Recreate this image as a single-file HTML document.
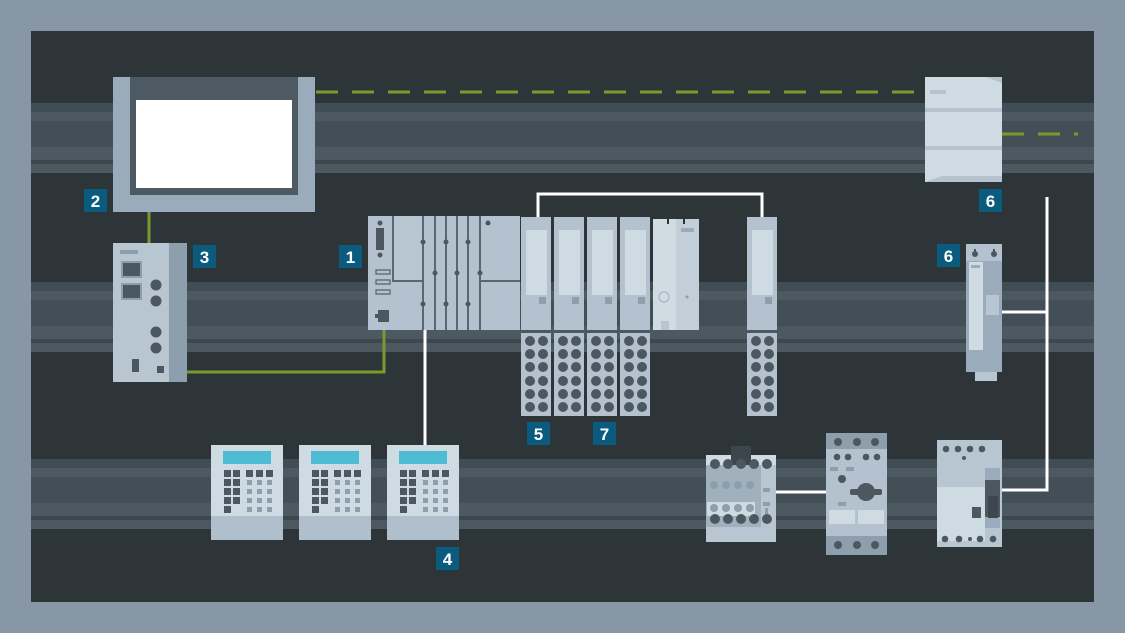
<!DOCTYPE html>
<html><head><meta charset="utf-8"><style>
html,body{margin:0;padding:0;background:#8797a6;}
svg{display:block}
text{font-family:"Liberation Sans",sans-serif;font-weight:bold;fill:#fff;font-size:17px;text-anchor:middle}
</style></head><body>
<svg width="1125" height="633" viewBox="0 0 1125 633" xmlns="http://www.w3.org/2000/svg">
<defs>
<g id="rail">
<rect x="0" y="0" width="1063" height="9" fill="#414d55"/>
<rect x="0" y="9" width="1063" height="9" fill="#4d5961"/>
<rect x="0" y="18" width="1063" height="26" fill="#434f57"/>
<rect x="0" y="44" width="1063" height="13" fill="#4d5961"/>
<rect x="0" y="57" width="1063" height="4" fill="#3c474e"/>
<rect x="0" y="61" width="1063" height="9" fill="#4d5961"/>
</g>
<g id="sig">
<rect x="0" y="0" width="30" height="113" fill="#b3c2ce"/>
<rect x="5" y="13" width="21" height="65" fill="#cfdbe3"/>
<rect x="18" y="80" width="7" height="7" fill="#8d9eac"/>
</g>
<g id="term">
<rect x="0" y="0" width="30" height="83" fill="#b3c2ce"/>
<g fill="#4d5760">
<circle cx="9" cy="8" r="5"/><circle cx="22" cy="8" r="5"/>
<circle cx="9" cy="21" r="5"/><circle cx="22" cy="21" r="5"/>
<circle cx="9" cy="34" r="5"/><circle cx="22" cy="34" r="5"/>
<circle cx="9" cy="48" r="5"/><circle cx="22" cy="48" r="5"/>
<circle cx="9" cy="61" r="5"/><circle cx="22" cy="61" r="5"/>
<circle cx="9" cy="74" r="5"/><circle cx="22" cy="74" r="5"/>
</g>
</g>
<g id="kp">
<rect x="0" y="0" width="72" height="95" fill="#cfdbe3"/>
<rect x="0" y="71" width="72" height="24" fill="#afbfcb"/>
<rect x="12" y="6" width="48" height="13" fill="#4fbcd6"/>
<g fill="#4d5760">
<rect x="13" y="25" width="7" height="7"/><rect x="22" y="25" width="7" height="7"/>
<rect x="13" y="34" width="7" height="7"/><rect x="22" y="34" width="7" height="7"/>
<rect x="13" y="43" width="7" height="7"/><rect x="22" y="43" width="7" height="7"/>
<rect x="13" y="52" width="7" height="7"/><rect x="22" y="52" width="7" height="7"/>
<rect x="13" y="61" width="7" height="7"/>
<rect x="35" y="25" width="7" height="7"/><rect x="45" y="25" width="7" height="7"/><rect x="55" y="25" width="7" height="7"/>
</g>
<g fill="#8d9eac">
<rect x="36" y="35" width="5" height="5"/><rect x="46" y="35" width="5" height="5"/><rect x="56" y="35" width="5" height="5"/>
<rect x="36" y="44" width="5" height="5"/><rect x="46" y="44" width="5" height="5"/><rect x="56" y="44" width="5" height="5"/>
<rect x="36" y="53" width="5" height="5"/><rect x="46" y="53" width="5" height="5"/><rect x="56" y="53" width="5" height="5"/>
<rect x="36" y="62" width="5" height="5"/><rect x="46" y="62" width="5" height="5"/><rect x="56" y="62" width="5" height="5"/>
</g>
</g>
</defs>
<rect x="0" y="0" width="1125" height="633" fill="#8797a6"/>
<rect x="31" y="31" width="1063" height="571" fill="#2d3539"/>
<use href="#rail" x="31" y="103"/>
<use href="#rail" x="31" y="282"/>
<use href="#rail" x="31" y="459"/>

<!-- dashed green -->
<line x1="316" y1="92" x2="925" y2="92" stroke="#7a9a2e" stroke-width="3" stroke-dasharray="22,14"/>
<line x1="1002" y1="134" x2="1078" y2="134" stroke="#7a9a2e" stroke-width="3" stroke-dasharray="22,14"/>
<!-- green solid -->
<polyline points="149,212 149,243" fill="none" stroke="#7a9a2e" stroke-width="3"/>
<polyline points="187,372 384,372 384,330" fill="none" stroke="#7a9a2e" stroke-width="3"/>
<!-- white lines -->
<polyline points="538,217 538,194 762,194 762,217" fill="none" stroke="#fff" stroke-width="3"/>
<line x1="425" y1="330" x2="425" y2="446" stroke="#fff" stroke-width="3"/>
<polyline points="1047,197 1047,490 1000,490" fill="none" stroke="#fff" stroke-width="3"/>
<line x1="1002" y1="312" x2="1047" y2="312" stroke="#fff" stroke-width="3"/>
<line x1="776" y1="492" x2="827" y2="492" stroke="#fff" stroke-width="3"/>

<!-- HMI -->
<rect x="113" y="77" width="202" height="135" fill="#9aabbb"/>
<rect x="130" y="77" width="168" height="118" fill="#4d5a64"/>
<rect x="136" y="100" width="156" height="88" fill="#fff"/>

<!-- top right box -->
<rect x="925" y="77" width="77" height="105" fill="#cfdbe3"/>
<rect x="925" y="108" width="77" height="4" fill="#b4c3ce"/>
<rect x="925" y="146" width="77" height="4" fill="#b4c3ce"/>
<rect x="930" y="90" width="16" height="4" fill="#b4c3ce"/>
<polygon points="985,77 1002,77 1002,83" fill="#b4c3ce"/>
<polygon points="925,182 942,176 1002,176 1002,182" fill="#b4c3ce"/>

<!-- box 3 -->
<rect x="113" y="243" width="74" height="139" fill="#b8c6d1"/>
<rect x="169" y="243" width="18" height="139" fill="#8d9eac"/>
<rect x="120" y="250" width="18" height="4" fill="#8d9eac"/>
<rect x="121" y="261" width="21" height="17" fill="#8d9eac"/><rect x="123" y="263" width="17" height="13" fill="#4d5760"/>
<rect x="121" y="283" width="21" height="17" fill="#8d9eac"/><rect x="123" y="285" width="17" height="13" fill="#4d5760"/>
<g fill="#4d5760"><circle cx="156" cy="285" r="5.5"/><circle cx="156" cy="301" r="5.5"/><circle cx="156" cy="332" r="5.5"/><circle cx="156" cy="348" r="5.5"/>
<rect x="132" y="359" width="7" height="13"/><rect x="157" y="366" width="7" height="7"/></g>

<!-- PLC CPU & modules -->
<rect x="368" y="216" width="152" height="114" fill="#b3c2ce"/>
<g fill="none" stroke="#5a6670" stroke-width="2">
<line x1="423" y1="216" x2="423" y2="330"/><line x1="435" y1="216" x2="435" y2="330"/><line x1="446" y1="216" x2="446" y2="330"/><line x1="457" y1="216" x2="457" y2="330"/><line x1="468" y1="216" x2="468" y2="330"/><line x1="480" y1="216" x2="480" y2="330"/>
<polyline points="393,216 393,281 423,281"/><line x1="480" y1="281" x2="520" y2="281"/>
</g>
<rect x="394" y="216" width="28" height="64" fill="#b8c6d1"/>
<g fill="#4d5760">
<circle cx="380" cy="223" r="2.5"/><rect x="376" y="228" width="8" height="22"/><circle cx="380" cy="255" r="2.5"/>
<circle cx="423" cy="242" r="2.5"/><circle cx="446" cy="242" r="2.5"/><circle cx="468" cy="242" r="2.5"/>
<circle cx="435" cy="273" r="2.5"/><circle cx="457" cy="273" r="2.5"/><circle cx="480" cy="273" r="2.5"/>
<circle cx="423" cy="304" r="2.5"/><circle cx="446" cy="304" r="2.5"/><circle cx="468" cy="304" r="2.5"/>
<circle cx="488" cy="223" r="2.5"/>
<rect x="378" y="310" width="11" height="12"/><rect x="375" y="314" width="3" height="4"/>
</g>
<g fill="none" stroke="#5a6670" stroke-width="1.3"><rect x="376" y="270" width="14" height="4"/><rect x="376" y="280" width="14" height="4"/><rect x="376" y="290" width="14" height="4"/></g>

<use href="#sig" x="521" y="217"/><use href="#sig" x="554" y="217"/><use href="#sig" x="587" y="217"/><use href="#sig" x="620" y="217"/><use href="#sig" x="747" y="217"/>
<use href="#term" x="521" y="333"/><use href="#term" x="554" y="333"/><use href="#term" x="587" y="333"/><use href="#term" x="620" y="333"/><use href="#term" x="747" y="333"/>
<!-- power module -->
<rect x="653" y="219" width="23" height="111" fill="#d0dbe2"/>
<rect x="676" y="219" width="23" height="111" fill="#c2cfd8"/>
<rect x="667" y="219" width="2" height="5" fill="#2d3539"/><rect x="683" y="219" width="2" height="5" fill="#2d3539"/>
<rect x="681" y="228" width="13" height="4" fill="#9aabbb"/>
<circle cx="664" cy="297" r="5" fill="none" stroke="#aebccb" stroke-width="1.5"/>
<circle cx="687" cy="297" r="1.5" fill="#8d9eac"/>
<rect x="661" y="321" width="8" height="9" fill="#b8c6d1"/>

<!-- keypads -->
<use href="#kp" x="211" y="445"/><use href="#kp" x="299" y="445"/><use href="#kp" x="387" y="445"/>

<!-- drive -->
<rect x="966" y="244" width="36" height="128" fill="#9aabbb"/>
<rect x="966" y="244" width="36" height="17" fill="#b3c2ce"/>
<g fill="#4d5760"><circle cx="975" cy="254" r="3"/><circle cx="994" cy="254" r="3"/><rect x="974" y="249" width="2" height="3"/><rect x="993" y="249" width="2" height="3"/></g>
<rect x="969" y="262" width="14" height="88" fill="#cfdbe3"/>
<rect x="971" y="265" width="9" height="3" fill="#9aabbb"/>
<rect x="986" y="295" width="13" height="20" fill="#b8c6d1"/>
<rect x="975" y="372" width="22" height="9" fill="#b8c6d1"/>

<!-- contactor -->
<rect x="706" y="455" width="70" height="87" fill="#b8c6d1"/>
<rect x="706" y="455" width="70" height="10" fill="#cfdbe3"/>
<rect x="731" y="446" width="20" height="19" fill="#3d464d"/>
<rect x="706" y="465" width="55" height="62" fill="#a0b0bd"/>
<rect x="707" y="502" width="48" height="14" fill="#cfdbe3"/>
<g fill="#4d5760"><circle cx="715" cy="464" r="5"/><circle cx="728" cy="464" r="5"/><circle cx="741" cy="464" r="5"/><circle cx="754" cy="464" r="5"/><circle cx="767" cy="464" r="5"/>
<circle cx="715" cy="519" r="5"/><circle cx="728" cy="519" r="5"/><circle cx="741" cy="519" r="5"/><circle cx="754" cy="519" r="5"/><circle cx="767" cy="519" r="5"/></g>
<g fill="#8d9eac"><circle cx="714" cy="485" r="4"/><circle cx="726" cy="485" r="4"/><circle cx="738" cy="485" r="4"/><circle cx="750" cy="485" r="4"/>
<circle cx="714" cy="508" r="4"/><circle cx="726" cy="508" r="4"/><circle cx="738" cy="508" r="4"/><circle cx="750" cy="508" r="4"/>
<rect x="763" y="488" width="7" height="4"/><rect x="763" y="502" width="7" height="4"/><rect x="765" y="508" width="3" height="6"/></g>

<!-- motor starter -->
<rect x="826" y="433" width="61" height="122" fill="#b3c2ce"/>
<rect x="826" y="433" width="61" height="16" fill="#8d9eac"/>
<rect x="826" y="536" width="61" height="19" fill="#8d9eac"/>
<g fill="#4d5760"><circle cx="838" cy="442" r="4"/><circle cx="857" cy="442" r="4"/><circle cx="875" cy="442" r="4"/>
<circle cx="838" cy="545" r="4"/><circle cx="857" cy="545" r="4"/><circle cx="875" cy="545" r="4"/>
<circle cx="837" cy="457" r="3.3"/><circle cx="848" cy="457" r="3.3"/><circle cx="866" cy="457" r="3.3"/><circle cx="877" cy="457" r="3.3"/>
<circle cx="842" cy="479" r="4"/><circle cx="866" cy="492" r="9"/><rect x="850" y="489" width="32" height="6" rx="2"/></g>
<g fill="#8d9eac"><rect x="830" y="467" width="8" height="4"/><rect x="846" y="467" width="8" height="4"/><rect x="838" y="502" width="8" height="4"/></g>
<g fill="#cfdbe3"><rect x="829" y="510" width="26" height="14"/><rect x="858" y="510" width="26" height="14"/></g>

<!-- breaker -->
<rect x="937" y="440" width="65" height="107" fill="#b8c6d1"/>
<rect x="937" y="487" width="48" height="54" fill="#cfdbe3"/>
<rect x="985" y="468" width="15" height="60" fill="#9aabbb"/>
<rect x="985" y="480" width="15" height="37" fill="#4d5760"/>
<rect x="988" y="496" width="10" height="22" fill="#3d464d"/>
<rect x="972" y="507" width="9" height="11" fill="#4d5760"/>
<g fill="#4d5760"><circle cx="946" cy="449" r="3.3"/><circle cx="958" cy="449" r="3.3"/><circle cx="970" cy="449" r="3.3"/><circle cx="982" cy="449" r="3.3"/><circle cx="964" cy="458" r="2"/>
<circle cx="945" cy="539" r="3.3"/><circle cx="959" cy="539" r="3.3"/><circle cx="970" cy="539" r="2"/><circle cx="980" cy="539" r="3.3"/><circle cx="993" cy="539" r="3.3"/></g>

<!-- labels -->
<g fill="#0b5b7e">
<rect x="84" y="189" width="23" height="23"/><rect x="193" y="245" width="23" height="23"/><rect x="339" y="245" width="23" height="23"/>
<rect x="527" y="422" width="23" height="23"/><rect x="593" y="422" width="23" height="23"/><rect x="436" y="547" width="23" height="23"/>
<rect x="979" y="189" width="23" height="23"/><rect x="937" y="244" width="23" height="23"/>
</g>
<text x="95.5" y="207">2</text><text x="204.5" y="263">3</text><text x="350.5" y="263">1</text>
<text x="538.5" y="440">5</text><text x="604.5" y="440">7</text><text x="447.5" y="565">4</text>
<text x="990.5" y="207">6</text><text x="948.5" y="262">6</text>
</svg>
</body></html>
